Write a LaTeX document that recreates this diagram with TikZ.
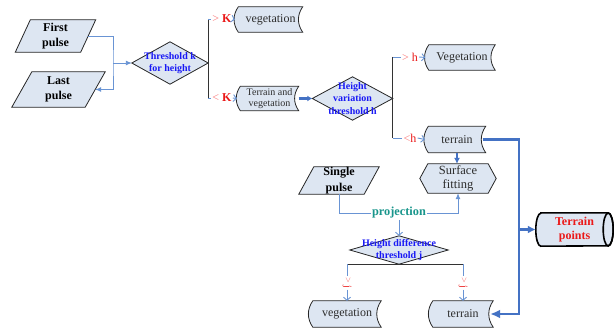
\documentclass[tikz,border=0pt]{standalone}
\usepackage{fontspec}
\setmainfont{Liberation Serif}
\usetikzlibrary{arrows.meta,backgrounds,calc}
\definecolor{boxfill}{RGB}{221,230,242}
\definecolor{lblue}{RGB}{105,148,212}
\definecolor{dblue}{RGB}{68,114,196}
\definecolor{txtgray}{RGB}{45,45,45}
\definecolor{dtxt}{RGB}{25,25,245}
\definecolor{lred}{RGB}{250,120,120}
\definecolor{dred}{RGB}{235,25,25}
\definecolor{teal2}{RGB}{25,150,140}
\tikzset{
  base/.style={inner sep=0pt, align=center, text=txtgray},
  tapefont/.style={font=\fontsize{12}{13}\selectfont},
  frame/.style={draw=black!85, line width=0.8pt, fill=boxfill},
  thinl/.style={draw=lblue, line width=0.9pt},
  thickl/.style={draw=dblue, line width=2.4pt},
  medl/.style={draw=dblue, line width=1.8pt},
  blackl/.style={draw=black!80, line width=0.9pt},
  lbl/.style={inner sep=1pt, font=\fontsize{12}{13}\selectfont},
  openhead/.style={-{Straight Barb[length=3pt,width=7pt]}},
  smallhead/.style={-{Latex[length=6pt,width=5pt]}},
}
\newcommand\tapebox[7][]{%
  \node[base,tapefont,#1,minimum width=#5pt,minimum height=#6pt] (#2) at (#3,#4) {#7};
  \begin{scope}[on background layer]
    \draw[frame] (#2.north west) to[bend right=35] (#2.south west) -- (#2.south east)
      to[bend left=35] (#2.north east) -- cycle;
  \end{scope}}
\newcommand\parabox[8][]{%
  \node[base,text=black,font=\bfseries\fontsize{12}{15.5}\selectfont,#1,minimum width={#5pt+#7pt},minimum height=#6pt] (#2) at (#3,#4) {#8};
  \begin{scope}[on background layer]
    \draw[frame] ([xshift=#7pt]#2.north west) -- (#2.north east)
      -- ([xshift=-#7pt]#2.south east) -- (#2.south west) -- cycle;
  \end{scope}}
\newcommand\diabox[7][]{%
  \node[base,text=dtxt,font=\bfseries\fontsize{10}{12.5}\selectfont,#1,minimum width=#5pt,minimum height=#6pt] (#2) at (#3,#4) {#7};
  \begin{scope}[on background layer]
    \draw[frame] (#2.west) -- (#2.north) -- (#2.east) -- (#2.south) -- cycle;
  \end{scope}}
\newcommand\hexbox[7][]{%
  \node[base,font=\fontsize{12.5}{13.5}\selectfont,#1,minimum width=#5pt,minimum height=#6pt] (#2) at (#3,#4) {#7};
  \begin{scope}[on background layer]
    \draw[frame] (#2.west) -- ([xshift=8pt]#2.north west) -- ([xshift=-8pt]#2.north east)
      -- (#2.east) -- ([xshift=-8pt]#2.south east) -- ([xshift=8pt]#2.south west) -- cycle;
  \end{scope}}
\begin{document}
\begin{tikzpicture}[x=1pt,y=1pt]
\useasboundingbox (0,0) rectangle (614,-329);
\begin{scope}[on background layer]
  \fill[white] (0,0) rectangle (614,-329);
\end{scope}

% pulses
\parabox{fp}{55.5}{-36}{65}{32}{15}{First\\pulse}
\parabox{lp}{58.5}{-89.5}{73}{35}{20}{Last\\pulse}
\parabox{sp}{339}{-180.5}{65}{27}{15}{Single\\pulse}

% diamonds
\diabox{dk}{170}{-63}{76}{42}{Threshold k\\for height}
\diabox{dh}{352.5}{-98.5}{80}{43}{Height\\variation\\threshold h}
\diabox{dj}{399}{-250}{98}{28}{Height difference\\threshold j}

% tape boxes
\tapebox{vega}{270.5}{-19.5}{64}{25}{vegetation}
\tapebox[font=\fontsize{10}{11.7}\selectfont]{tv}{269.5}{-98.5}{58}{24}{Terrain and\\vegetation}
\tapebox{vegb}{462}{-57.5}{66}{25}{Vegetation}
\tapebox{tera}{457}{-139.5}{57}{26}{terrain}
\tapebox{vegc}{347}{-314}{68}{26}{vegetation}
\tapebox{terb}{463}{-314}{60}{26}{terrain}

% surface fitting
\hexbox{surf}{458}{-178.5}{76}{29}{Surface\\fitting}

% terrain points cylinder
\node[base,text=dred,font=\bfseries\fontsize{12}{14.5}\selectfont,minimum width=77pt,minimum height=33pt] (tp) at (574.5,-229.5) {Terrain\\points};
\begin{scope}[on background layer]
  \draw[draw=black,line width=1.6pt,fill=boxfill] ([xshift=5pt]tp.north west) -- ([xshift=-5pt]tp.north east)
    arc[start angle=90,end angle=-90,x radius=5,y radius=16.5]
    -- ([xshift=5pt]tp.south west)
    arc[start angle=270,end angle=90,x radius=5,y radius=16.5] -- cycle;
  \draw[draw=black,line width=1.6pt] ([xshift=-5pt]tp.east) ellipse[x radius=5,y radius=16.5];
\end{scope}

% labels
\node[lbl] (gk) at (222,-19) {\textcolor{lred}{>} \textcolor{dred}{\textbf{K}}};
\node[lbl] (lk) at (222,-98) {\textcolor{lred}{<} \textcolor{dred}{\textbf{K}}};
\node[lbl] (gh) at (410,-57) {\textcolor{lred}{>} \textcolor{dred}{h}};
\node[lbl] (lh) at (410,-138) {\textcolor{lred}{<}\textcolor{dred}{h}};
\node[lbl,rotate=-90,font=\fontsize{10}{11}\selectfont] (gj1) at (347,-283) {\textcolor{lred}{>} \textcolor{dred}{j}};
\node[lbl,rotate=-90,font=\fontsize{10}{11}\selectfont] (gj2) at (463,-283) {\textcolor{lred}{>} \textcolor{dred}{j}};
\node[inner sep=1pt,text=teal2,font=\bfseries\fontsize{12.3}{13}\selectfont] (pj) at (399,-213) {projection};

% coordinates
\coordinate (jk) at (113,-63);
\coordinate (kt) at (dk.east |- gk);
\coordinate (kb) at (dk.east |- lk);
\coordinate (ht) at (dh.east |- gh);
\coordinate (hb) at (dh.east |- lh);
\coordinate (jl) at (vegc.north |- dj.south);
\coordinate (jr) at (terb.north |- dj.south);
\coordinate (rv) at (519,-229.5);

% pulses to threshold k
\draw[thinl,smallhead] ([xshift=-7.5pt]fp.east) -| (jk) |- ([xshift=-10pt]lp.east);
\draw[thinl,smallhead] (jk) -- (dk.west);

% threshold k branches
\draw[blackl] (kt) -- (kb);
\draw[thinl] (kt) -- (gk.west);
\draw[thinl] (kb) -- (lk.west);
\draw[thinl,openhead] (gk.east) -- ([xshift=-3.5pt]vega.west);
\draw[thinl,openhead] (lk.east) -- ([xshift=-3.5pt]tv.west);

% terrain and vegetation to threshold h
\draw[thickl,-{Latex[length=5pt,width=6pt]}] (tv.east) -- (dh.west);

% threshold h branches
\draw[blackl] (ht) -- (hb);
\draw[thinl] (ht) -- (gh.west);
\draw[thinl] (hb) -- (lh.west);
\draw[thinl,openhead] (gh.east) -- ([xshift=-3.5pt]vegb.west);
\draw[thinl,openhead] (lh.east) -- ([xshift=-3.5pt]tera.west);

% terrain to surface fitting
\draw[medl,-{Latex[length=6pt,width=6pt]}] (tera.south) -- (tera.south |- surf.north);

% terrain to terrain points and final terrain
\draw[thickl,-{Latex[length=10pt,width=9pt]}] ([xshift=-3pt]tera.east) -| (rv) |- ([xshift=-3pt]terb.east);
\draw[thickl,-{Latex[length=8pt,width=8pt]}] (rv) -- (tp.west);

% single pulse projection
\draw[thinl] (sp.south) |- (pj.west);
\draw[thinl,smallhead] (pj.east) -| (surf.south);
\draw[thinl,openhead] (pj.south) -- (dj.north);

% threshold j branches
\draw[blackl] (jl) -- (jr);
\draw[thinl] (jl) -- (gj1.west);
\draw[thinl] (jr) -- (gj2.west);
\draw[thinl,openhead] (gj1.east) -- (vegc.north);
\draw[thinl,openhead] (gj2.east) -- (terb.north);
\end{tikzpicture}
\end{document}
